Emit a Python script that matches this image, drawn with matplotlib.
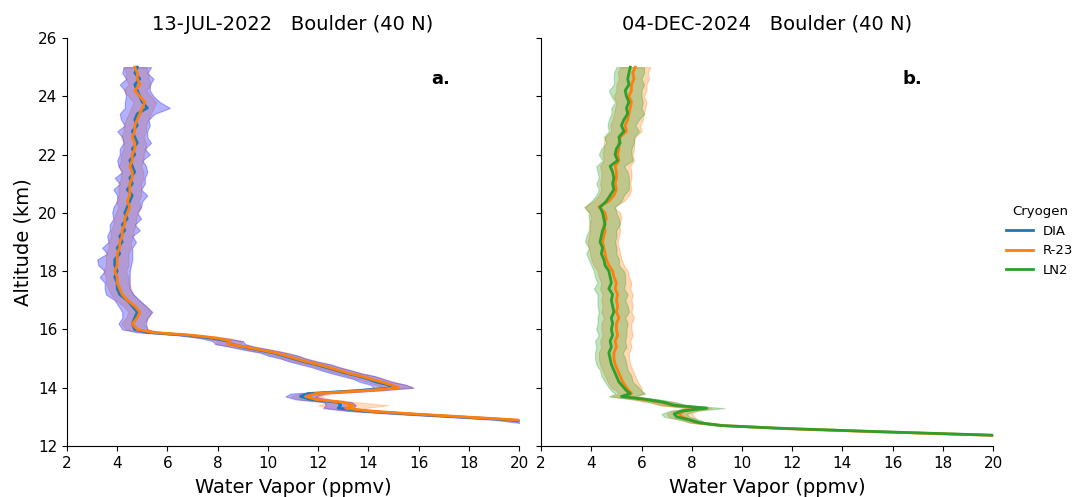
import matplotlib
matplotlib.use("Agg")
import matplotlib.pyplot as plt
import numpy as np

# ---------------- data ----------------
alt_a = [25.0, 24.8, 24.6, 24.4, 24.2, 24.0, 23.8, 23.6, 23.4, 23.2, 23.0, 22.8, 22.6, 22.4,
         22.2, 22.0, 21.8, 21.6, 21.4, 21.2, 21.0, 20.8, 20.6, 20.4, 20.2, 20.0, 19.8, 19.6,
         19.4, 19.2, 19.0, 18.8, 18.6, 18.4, 18.2, 18.0, 17.8, 17.6, 17.4, 17.2, 17.0, 16.8,
         16.6, 16.4, 16.2, 16.0, 15.9, 15.8, 15.7, 15.6, 15.5, 15.4, 15.3, 15.2, 15.1, 15.0,
         14.9, 14.8, 14.7, 14.6, 14.5, 14.4, 14.3, 14.2, 14.1, 14.0, 13.9, 13.8, 13.7, 13.6,
         13.5, 13.4, 13.3, 13.2, 13.1, 13.0, 12.9, 12.75]
dia_a = [4.8, 4.7, 4.9, 4.7, 4.8, 4.9, 5.0, 5.2, 4.8, 4.7, 4.8, 4.6, 4.7, 4.8,
         4.6, 4.7, 4.5, 4.6, 4.7, 4.5, 4.6, 4.4, 4.6, 4.5, 4.4, 4.3, 4.4, 4.2,
         4.3, 4.1, 4.2, 4.0, 4.1, 3.9, 3.9, 4.0, 3.9, 4.0, 4.0, 4.1, 4.4, 4.6,
         4.8, 4.7, 4.6, 4.7, 5.2, 6.8, 7.8, 8.4, 8.5, 9.0, 9.6, 10.2, 10.6, 11.0,
         11.4, 11.9, 12.3, 12.7, 13.1, 13.6, 14.0, 14.3, 14.8, 15.0, 13.6, 11.6, 11.3, 11.7,
         12.8, 12.9, 12.8, 13.8, 15.6, 17.6, 19.6, 21.0]
dia_a_err = [0.55, 0.5, 0.55, 0.6, 0.5, 0.55, 0.7, 0.9, 0.7, 0.55, 0.5, 0.6, 0.5, 0.55,
             0.5, 0.6, 0.5, 0.55, 0.5, 0.6, 0.5, 0.55, 0.6, 0.5, 0.55, 0.5, 0.55, 0.5,
             0.6, 0.5, 0.55, 0.6, 0.5, 0.7, 0.65, 0.5, 0.6, 0.5, 0.5, 0.55, 0.5, 0.55,
             0.6, 0.5, 0.55, 0.5, 0.4, 0.4, 0.5, 0.6, 0.6, 0.5, 0.55, 0.5, 0.6, 0.5,
             0.55, 0.6, 0.55, 0.6, 0.6, 0.65, 0.6, 0.65, 0.7, 0.8, 0.7, 0.7, 0.6, 0.6,
             0.55, 0.6, 0.6, 0.6, 0.6, 0.6, 0.6, 0.6]
alt_a_r23 = [25.0, 24.8, 24.6, 24.4, 24.2, 24.0, 23.8, 23.6, 23.4, 23.2, 23.0, 22.8, 22.6, 22.4,
             22.2, 22.0, 21.8, 21.6, 21.4, 21.2, 21.0, 20.8, 20.6, 20.4, 20.2, 20.0, 19.8, 19.6,
             19.4, 19.2, 19.0, 18.8, 18.6, 18.4, 18.2, 18.0, 17.8, 17.6, 17.4, 17.2, 17.0, 16.8,
             16.6, 16.4, 16.2, 16.0, 15.9, 15.8, 15.7, 15.6, 15.5, 15.4, 15.3, 15.2, 15.1, 15.0,
             14.9, 14.8, 14.7, 14.6, 14.5, 14.4, 14.3, 14.2, 14.1, 14.0, 13.9, 13.8, 13.7, 13.6,
             13.5, 13.4, 13.3, 13.2, 13.1, 13.0, 12.9, 12.85]
r23_a = [4.7, 4.8, 4.8, 4.9, 4.7, 4.9, 5.1, 5.0, 4.9, 4.8, 4.7, 4.7, 4.6, 4.7,
         4.7, 4.6, 4.6, 4.5, 4.6, 4.6, 4.5, 4.5, 4.5, 4.4, 4.5, 4.4, 4.3, 4.3,
         4.2, 4.2, 4.1, 4.1, 4.0, 4.0, 4.0, 3.9, 4.0, 4.0, 4.1, 4.2, 4.4, 4.7,
         4.9, 4.8, 4.6, 4.8, 5.4, 7.0, 8.0, 8.5, 8.4, 9.1, 9.7, 10.3, 10.7, 11.1,
         11.5, 12.0, 12.4, 12.8, 13.2, 13.7, 14.1, 14.5, 14.9, 15.2, 13.9, 11.9, 11.5, 11.9,
         13.0, 13.4, 13.1, 14.0, 15.8, 17.8, 19.8, 20.6]
r23_a_err = [0.45] * 46 + [0.4, 0.4, 0.5, 0.5, 0.5, 0.5, 0.5, 0.5, 0.5, 0.5,
                           0.5, 0.5, 0.5, 0.5, 0.5, 0.55, 0.55, 0.55, 0.6, 0.6, 0.6, 0.6, 0.6, 0.6,
                           0.6, 1.4, 0.7, 0.6, 0.6, 0.6, 0.6, 0.6]

alt_b = [25.0, 24.8, 24.6, 24.4, 24.2, 24.0, 23.8, 23.6, 23.4, 23.2, 23.0, 22.8, 22.6, 22.4,
         22.2, 22.0, 21.8, 21.6, 21.4, 21.2, 21.0, 20.8, 20.6, 20.4, 20.2, 20.0, 19.8, 19.6,
         19.4, 19.2, 19.0, 18.8, 18.6, 18.4, 18.2, 18.0, 17.8, 17.6, 17.4, 17.2, 17.0, 16.8,
         16.6, 16.4, 16.2, 16.0, 15.8, 15.6, 15.4, 15.2, 15.0, 14.8, 14.6, 14.4, 14.2, 14.0,
         13.9, 13.8, 13.7, 13.6, 13.5, 13.4, 13.3, 13.2, 13.1, 13.0, 12.9, 12.8, 12.7, 12.6,
         12.5, 12.4, 12.35]
ln2_b = [5.55, 5.5, 5.45, 5.5, 5.35, 5.4, 5.5, 5.4, 5.45, 5.3, 5.2, 5.3, 5.1, 5.15,
         5.0, 4.95, 5.05, 4.75, 4.85, 4.9, 4.85, 4.9, 4.75, 4.6, 4.35, 4.45, 4.5, 4.55,
         4.45, 4.4, 4.35, 4.45, 4.4, 4.5, 4.55, 4.7, 4.75, 4.8, 4.7, 4.85, 4.8, 4.85,
         4.9, 4.8, 4.85, 4.8, 4.85, 4.75, 4.8, 4.7, 4.75, 4.8, 4.9, 5.0, 5.1, 5.3,
         5.4, 5.55, 5.2, 6.2, 6.9, 7.3, 8.6, 7.6, 7.3, 7.4, 7.9, 8.3, 9.2, 11.8,
         15.2, 18.9, 20.8]
ln2_b_err = [0.55, 0.6, 0.55, 0.6, 0.65, 0.6, 0.55, 0.6, 0.65, 0.6, 0.55, 0.6, 0.6, 0.55,
             0.6, 0.65, 0.6, 0.55, 0.6, 0.6, 0.65, 0.6, 0.55, 0.6, 0.6, 0.55, 0.6, 0.6,
             0.55, 0.6, 0.6, 0.55, 0.6, 0.6, 0.55, 0.6, 0.6, 0.55, 0.6, 0.6, 0.55, 0.6,
             0.6, 0.55, 0.6, 0.6, 0.55, 0.6, 0.6, 0.55, 0.6, 0.6, 0.55, 0.6, 0.55, 0.6,
             0.6, 0.6, 0.5, 0.5, 0.5, 0.5, 0.7, 0.5, 0.5, 0.5, 0.4, 0.3, 0.2, 0.2,
             0.2, 0.2, 0.2]
r23_b = [5.75, 5.65, 5.7, 5.6, 5.6, 5.5, 5.6, 5.55, 5.5, 5.45, 5.35, 5.4, 5.15, 5.1,
         5.1, 5.05, 5.1, 4.95, 5.0, 5.0, 4.95, 5.0, 4.9, 4.7, 4.3, 4.55, 4.6, 4.5,
         4.55, 4.5, 4.45, 4.5, 4.55, 4.6, 4.7, 4.85, 4.9, 5.0, 4.95, 5.05, 5.0, 5.05,
         5.0, 5.1, 5.0, 5.0, 5.05, 4.95, 5.0, 4.9, 4.9, 4.95, 5.05, 5.15, 5.25, 5.4,
         5.5, 5.6, 5.3, 6.1, 6.8, 7.2, 8.3, 7.7, 7.5, 7.6, 7.9, 8.2, 9.3, 11.6,
         15.0, 18.7, 20.6]
r23_b_err = [0.6] * 56 + [0.5] * 10 + [0.3] * 7

# ---------------- figure ----------------
c_dia, c_r23, c_ln2 = "#1f77b4", "#ff7f0e", "#2ca02c"

fig = plt.figure(figsize=(10.75, 4.97), dpi=100)
axa = fig.add_axes([0.0623, 0.1026, 0.4205, 0.8209])
axb = fig.add_axes([0.5033, 0.1026, 0.4205, 0.8209])


def band(ax, alt, val, err, color, alpha):
    v = np.array(val)
    e = np.array(err)
    ax.fill_betweenx(alt, v - e, v + e, color=color, alpha=alpha, lw=0.8)


band(axa, alt_a_r23, r23_a, r23_a_err, c_r23, 0.25)
band(axa, alt_a, dia_a, dia_a_err, "blue", 0.3)
axa.plot(dia_a, alt_a, color=c_dia, lw=2)
axa.plot(r23_a, alt_a_r23, color=c_r23, lw=2)

band(axb, alt_b, r23_b, r23_b_err, c_r23, 0.3)
band(axb, alt_b, ln2_b, ln2_b_err, c_ln2, 0.3)
axb.plot(r23_b, alt_b, color=c_r23, lw=2)
axb.plot(ln2_b, alt_b, color=c_ln2, lw=2)

for ax in (axa, axb):
    ax.set_xlim(2, 20)
    ax.set_ylim(12, 26)
    ax.set_xticks(np.arange(2, 21, 2))
    ax.set_yticks(np.arange(12, 27, 2))
    ax.spines["top"].set_visible(False)
    ax.spines["right"].set_visible(False)
    ax.tick_params(labelsize=11)
    ax.set_xlabel("Water Vapor (ppmv)", fontsize=14, labelpad=5)

axb.set_yticklabels([])
axa.set_ylabel("Altitude (km)", fontsize=14)
axa.set_title("13-JUL-2022   Boulder (40 N)", fontsize=14)
axb.set_title("04-DEC-2024   Boulder (40 N)", fontsize=14)
axa.text(16.9, 24.6, "a.", fontsize=13, fontweight="bold", ha="center", va="center")
axb.text(16.8, 24.6, "b.", fontsize=13, fontweight="bold", ha="center", va="center")

handles = [plt.Line2D([], [], color=c, lw=2) for c in (c_dia, c_r23, c_ln2)]
fig.legend(handles, ["DIA", "R-23", "LN2"], title="Cryogen", loc="center left",
           bbox_to_anchor=(0.925, 0.515), frameon=False, fontsize=9.5, title_fontsize=9.5)

fig.savefig("out.png", dpi=100)
